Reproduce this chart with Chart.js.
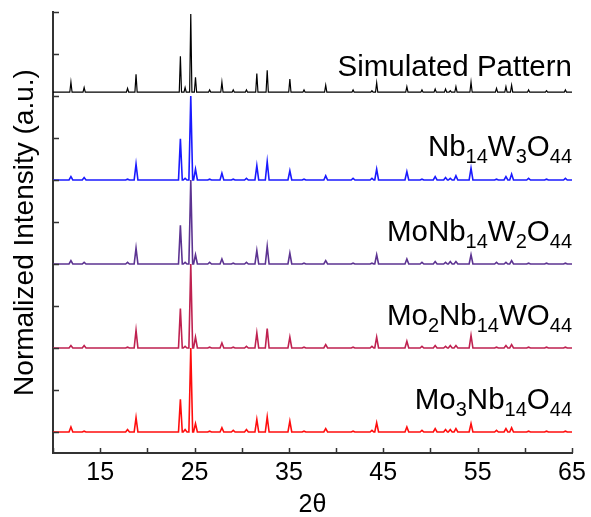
<!DOCTYPE html>
<html>
<head>
<meta charset="utf-8">
<script src="https://cdn.jsdelivr.net/npm/chart.js@4.4.1/dist/chart.umd.min.js"></script>
<style>
    html, body { margin: 0; padding: 0; background: #fff; }
    #wrap { width: 591px; height: 517px; }
</style>
</head>
<body>
<div id="wrap"><canvas id="xrdChart"></canvas></div>
<script>
// peak positions (2θ) shared by all patterns
const peakPositions = [11.9, 13.3, 17.9, 18.8, 23.5, 24.0, 24.6, 25.1, 26.6, 27.9, 29.1, 30.5, 31.6, 32.7, 35.1, 36.6,
    38.9, 41.8, 43.8, 44.3, 47.5, 49.1, 50.5, 51.6, 52.1, 52.7, 54.3, 57.0, 58.0, 58.6, 60.4, 62.3, 64.3];

// relative peak intensities, strongest peak = 1
const simulated = [0.13, 0.06, 0.05, 0.23, 0.46, 0.06, 1.0, 0.19, 0.03, 0.13, 0.03, 0.03, 0.24, 0.28, 0.17, 0.03,
    0.09, 0.03, 0.02, 0.12, 0.07, 0.03, 0.04, 0.04, 0.02, 0.07, 0.13, 0.05, 0.07, 0.09, 0.03, 0.02, 0.03];
const nb14w3o44 = [0.04, 0.03, 0.01, 0.19, 0.49, 0.02, 1.0, 0.13, 0.01, 0.08, 0.01, 0.02, 0.17, 0.22, 0.11, 0.01,
    0.05, 0.02, 0.02, 0.13, 0.10, 0.01, 0.04, 0.03, 0.02, 0.05, 0.14, 0.01, 0.04, 0.07, 0.02, 0.01, 0.02];
const moNb14w2o44 = [0.04, 0.02, 0.02, 0.19, 0.46, 0.02, 1.0, 0.11, 0.02, 0.06, 0.01, 0.02, 0.16, 0.21, 0.13, 0.01,
    0.04, 0.01, 0.01, 0.11, 0.06, 0.02, 0.03, 0.02, 0.03, 0.03, 0.11, 0.02, 0.02, 0.04, 0.01, 0.01, 0.01];
const mo2Nb14wo44 = [0.03, 0.03, 0.01, 0.21, 0.47, 0.02, 1.0, 0.13, 0.01, 0.06, 0.01, 0.02, 0.18, 0.23, 0.13, 0.01,
    0.04, 0.01, 0.02, 0.13, 0.08, 0.02, 0.03, 0.02, 0.03, 0.03, 0.15, 0.01, 0.03, 0.04, 0.01, 0.01, 0.01];
const mo3Nb14o44 = [0.06, 0.01, 0.03, 0.17, 0.39, 0.03, 1.0, 0.10, 0.01, 0.05, 0.02, 0.03, 0.15, 0.18, 0.13, 0.01,
    0.04, 0.01, 0.02, 0.11, 0.06, 0.02, 0.04, 0.03, 0.03, 0.04, 0.10, 0.02, 0.04, 0.05, 0.01, 0.01, 0.01];

// names, _{..} = subscript
const seriesNames = ['Simulated Pattern', 'Nb_{14}W_{3}O_{44}', 'MoNb_{14}W_{2}O_{44}', 'Mo_{2}Nb_{14}WO_{44}', 'Mo_{3}Nb_{14}O_{44}'];
const xTickLabels = [15, 25, 35, 45, 55, 65];

// stacking / style
const seriesData = [simulated, nb14w3o44, moNb14w2o44, mo2Nb14wo44, mo3Nb14o44];
const offsets = [8.09, 6, 4, 2, 0];
const spans = [1.86, 2, 2, 2, 2];
const halfWidths = [0.12, 0.2, 0.2, 0.2, 0.2];
const colors = ['#000000', '#1a1aff', '#5c3391', '#bf2150', '#ff0d0d'];
const lineWidths = [1.2, 1.6, 1.6, 1.6, 1.6];
const labelY = [8.48, 6.56, 4.54, 2.54, 0.54];

const FONT = '"Liberation Sans", Arial, sans-serif';

function buildPoints(heights, offset, span, hw) {
    const pts = [{ x: 10, y: offset }];
    peakPositions.forEach(function (p, i) {
        pts.push({ x: p - hw, y: offset });
        pts.push({ x: p, y: offset + heights[i] * span });
        pts.push({ x: p + hw, y: offset });
    });
    pts.push({ x: 65, y: offset });
    return pts;
}

// inward tick marks
const innerTicks = {
    id: 'innerTicks',
    afterDraw(chart) {
        const ctx = chart.ctx;
        const xs = chart.scales.x, ys = chart.scales.y;
        const area = chart.chartArea;
        ctx.save();
        ctx.strokeStyle = '#333';
        ctx.lineWidth = 1.5;
        ctx.beginPath();
        xs.ticks.forEach(function (t) {
            const px = Math.round(xs.getPixelForValue(t.value)) + 0.5;
            ctx.moveTo(px, area.bottom);
            ctx.lineTo(px, area.bottom - 5);
        });
        ys.ticks.forEach(function (t) {
            if (!Number.isInteger(t.value)) return;
            const py = Math.round(ys.getPixelForValue(t.value)) + 0.5;
            ctx.moveTo(area.left, py);
            ctx.lineTo(area.left + 6, py);
        });
        ctx.stroke();
        ctx.restore();
    }
};

// series labels with subscripts
const seriesLabels = {
    id: 'seriesLabels',
    afterDatasetsDraw(chart) {
        const ctx = chart.ctx;
        const xs = chart.scales.x, ys = chart.scales.y;
        const right = xs.getPixelForValue(65);
        ctx.save();
        ctx.fillStyle = '#000';
        ctx.textBaseline = 'alphabetic';
        ctx.textAlign = 'left';
        seriesNames.forEach(function (name, i) {
            const parts = [];
            name.split(/(_\{[^}]*\})/).forEach(function (s) {
                if (!s) return;
                if (s[0] === '_') parts.push({ t: s.slice(2, -1), sub: true });
                else parts.push({ t: s, sub: false });
            });
            let total = 0;
            parts.forEach(function (p) {
                ctx.font = (p.sub ? '20px ' : '29.5px ') + FONT;
                p.w = ctx.measureText(p.t).width;
                total += p.w;
            });
            let x = right - total;
            const base = ys.getPixelForValue(labelY[i]);
            parts.forEach(function (p) {
                ctx.font = (p.sub ? '20px ' : '29.5px ') + FONT;
                ctx.fillText(p.t, x, p.sub ? base + 7 : base);
                x += p.w;
            });
        });
        ctx.restore();
    }
};

const datasets = seriesNames.map(function (name, i) {
    return {
        label: name.replace(/[_{}]/g, ''),
        data: buildPoints(seriesData[i], offsets[i], spans[i], halfWidths[i]),
        borderColor: colors[i],
        borderWidth: lineWidths[i],
        pointRadius: 0,
        tension: 0,
        fill: false
    };
});

const config = {
    type: 'line',
    data: { datasets: datasets },
    options: {
        responsive: true,
        maintainAspectRatio: false,
        animation: false,
        layout: { padding: { left: 0, right: 19, top: 12, bottom: 0 } },
        plugins: { legend: { display: false }, tooltip: { enabled: false } },
        scales: {
            x: {
                type: 'linear',
                min: 10,
                max: 65,
                grid: { display: false, drawTicks: false },
                border: { display: true, color: '#333', width: 2 },
                ticks: {
                    stepSize: 5,
                    autoSkip: false,
                    maxRotation: 0,
                    padding: 8,
                    color: '#000',
                    font: { family: FONT, size: 25, lineHeight: 1.0 },
                    callback: function (v) { return xTickLabels.includes(v) ? String(v) : ''; }
                },
                title: {
                    display: true,
                    text: '2θ',
                    color: '#000',
                    font: { family: FONT, size: 25, lineHeight: 0.92 },
                    padding: { top: 0, bottom: 0 }
                },
                afterFit: function (scale) {
                    scale.height = 64;
                    scale.paddingLeft = 0;
                    scale.paddingRight = 0;
                }
            },
            y: {
                min: -0.5,
                max: 10,
                grid: { display: false, drawTicks: false },
                border: { display: true, color: '#333', width: 2 },
                ticks: { display: false, stepSize: 1 },
                title: {
                    display: true,
                    text: 'Normalized Intensity (a.u.)',
                    color: '#000',
                    font: { family: FONT, size: 28 },
                    padding: { top: 8, bottom: 0 }
                },
                afterFit: function (scale) {
                    scale.width = 53;
                }
            }
        }
    },
    plugins: [innerTicks, seriesLabels]
};

window.xrdChart = new Chart(document.getElementById('xrdChart'), config);
</script>
</body>
</html>
